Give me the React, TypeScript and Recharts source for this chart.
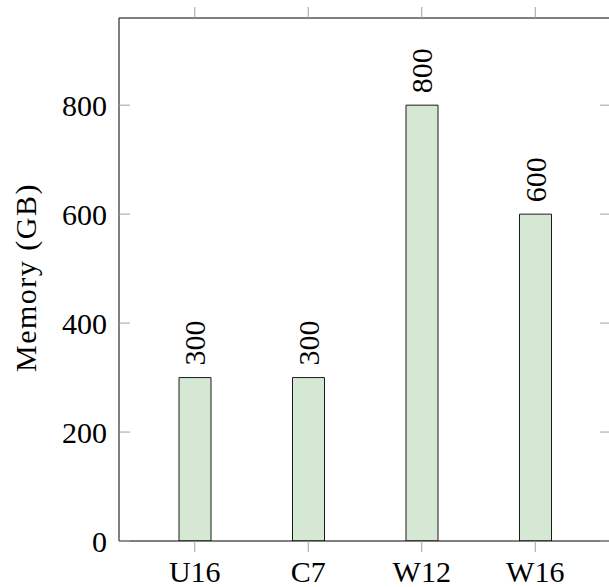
import { BarChart, Bar, XAxis, YAxis, LabelList, Label } from "recharts";

const MACHINES = ["U16", "C7", "W12", "W16"];
const MEMORY_GB = [300, 300, 800, 600];
const Y_TICKS = [0, 200, 400, 600, 800];

const data = MACHINES.map((name, i) => ({ name, memory: MEMORY_GB[i] }));

const FONT = "Liberation Serif, DejaVu Serif, serif";
const TICK_GRAY = "#a0a0a0";
const TICK_LEN = 11;
const textStyle = { fontFamily: FONT, fontSize: 30, fill: "#000" };

// tick mark + label drawn by hand (pgfplots style: y ticks point inward, x ticks outward)
const AxisTick = (props: any) => {
  const { x, y, payload, side } = props;
  if (side === "bottom") {
    return (
      <g>
        <line x1={x} y1={y} x2={x} y2={y + TICK_LEN} stroke={TICK_GRAY} />
        <text x={x} y={y + 41} textAnchor="middle" style={textStyle}>
          {payload.value}
        </text>
      </g>
    );
  }
  if (side === "top") {
    return <line x1={x} y1={y} x2={x} y2={y - TICK_LEN} stroke={TICK_GRAY} />;
  }
  if (side === "left") {
    return (
      <g>
        <line x1={x} y1={y} x2={x + TICK_LEN} y2={y} stroke={TICK_GRAY} />
        <text x={x - 12} y={y + 10.5} textAnchor="end" style={textStyle}>
          {payload.value}
        </text>
      </g>
    );
  }
  return <line x1={x} y1={y} x2={x - TICK_LEN} y2={y} stroke={TICK_GRAY} />;
};

const BarValue = (props: any) => {
  const { x, y, width, value } = props;
  const bx = x + width / 2 + 10;
  const by = y - 12;
  return (
    <text x={bx} y={by} transform={`rotate(-90 ${bx} ${by})`} textAnchor="start" style={textStyle}>
      {value}
    </text>
  );
};

const YTitle = (props: any) => {
  const { viewBox } = props;
  const tx = viewBox.x + 36;
  const ty = viewBox.y + viewBox.height / 2 - 2;
  return (
    <text
      x={tx}
      y={ty}
      transform={`rotate(-90 ${tx} ${ty})`}
      textAnchor="middle"
      style={{ ...textStyle, letterSpacing: 1.5 }}
    >
      Memory (GB)
    </text>
  );
};

const App = () => {
  return (
    <div
      style={{
        position: "fixed",
        left: 0,
        top: 0,
        width: 609,
        height: 587,
        overflow: "hidden",
        background: "#fff",
      }}
    >
      <BarChart width={620} height={587} data={data} margin={{ top: 0, right: 0, bottom: 0, left: 0 }}>
        <XAxis
          xAxisId="top"
          orientation="top"
          dataKey="name"
          height={18}
          padding={{ left: 19, right: 19 }}
          tick={<AxisTick side="top" />}
          tickSize={0}
          tickMargin={0}
          tickLine={false}
          axisLine={{ stroke: "#000" }}
          interval={0}
        />
        <XAxis
          dataKey="name"
          height={46}
          padding={{ left: 19, right: 19 }}
          tick={<AxisTick side="bottom" />}
          tickSize={0}
          tickMargin={0}
          tickLine={false}
          axisLine={{ stroke: "#000" }}
          interval={0}
        />
        <YAxis
          width={119}
          domain={[0, 960]}
          ticks={Y_TICKS}
          allowDataOverflow
          tick={<AxisTick side="left" />}
          tickSize={0}
          tickMargin={0}
          tickLine={false}
          axisLine={{ stroke: "#000" }}
        >
          <Label content={<YTitle />} />
        </YAxis>
        <YAxis
          yAxisId="r"
          orientation="right"
          width={9}
          domain={[0, 960]}
          ticks={Y_TICKS}
          allowDataOverflow
          tick={<AxisTick side="right" />}
          tickSize={0}
          tickMargin={0}
          tickLine={false}
          axisLine={{ stroke: "#000" }}
        />
        <Bar
          dataKey="memory"
          barSize={32}
          fill="#d5e8d4"
          stroke="#1a1a1a"
          strokeWidth={1}
          isAnimationActive={false}
        >
          <LabelList dataKey="memory" content={<BarValue />} />
        </Bar>
      </BarChart>
    </div>
  );
};

export default App;
